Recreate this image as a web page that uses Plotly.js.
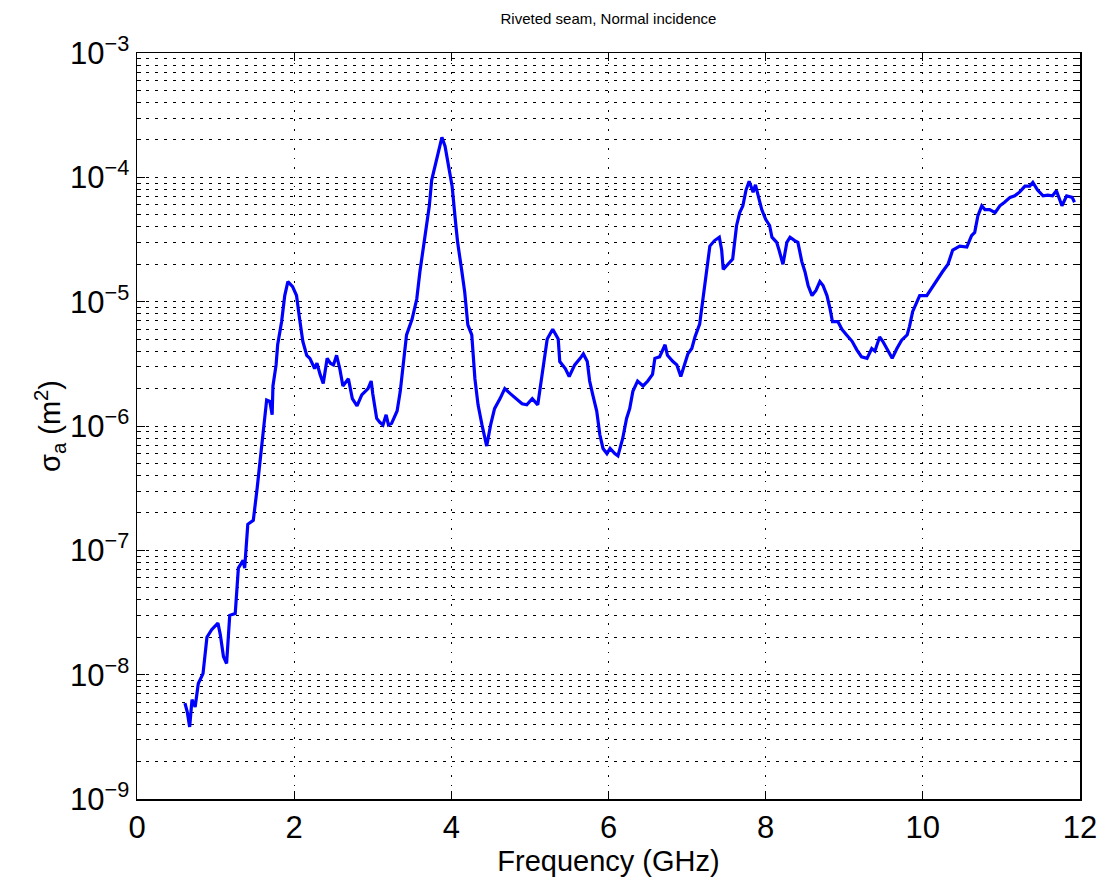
<!DOCTYPE html>
<html>
<head>
<meta charset="utf-8">
<script src="https://cdn.plot.ly/plotly-3.0.1.min.js"></script>
<style>html,body{margin:0;padding:0;background:#fff;}#chart{width:1107px;height:884px;}</style>
</head>
<body>
<div id="chart"></div>
<script>
// Frequency in GHz
const frequencyGHz = [
0.61,0.64,0.67,0.70,0.74,0.78,0.84,0.89,0.95,1.03,
1.06,1.10,1.14,1.16,1.18,1.25,1.29,1.35,1.37,1.41,
1.48,1.53,1.56,1.60,1.63,1.65,1.69,1.72,1.73,1.77,
1.79,1.84,1.88,1.92,1.98,2.03,2.07,2.11,2.16,2.20,
2.26,2.29,2.33,2.37,2.42,2.46,2.50,2.54,2.58,2.62,
2.69,2.74,2.80,2.86,2.94,2.98,3.00,3.05,3.09,3.13,
3.17,3.20,3.24,3.28,3.31,3.35,3.38,3.43,3.50,3.56,
3.60,3.64,3.69,3.72,3.75,3.79,3.83,3.88,3.92,3.96,
4.01,4.05,4.08,4.13,4.17,4.21,4.26,4.30,4.34,4.39,
4.45,4.50,4.55,4.62,4.68,4.75,4.83,4.90,4.96,5.03,
5.10,5.15,5.19,5.22,5.29,5.36,5.38,5.45,5.50,5.57,
5.64,5.68,5.73,5.76,5.80,5.85,5.89,5.93,5.98,6.02,
6.08,6.12,6.18,6.23,6.27,6.31,6.37,6.44,6.50,6.56,
6.59,6.65,6.72,6.75,6.82,6.87,6.92,6.97,7.01,7.06,
7.10,7.16,7.20,7.25,7.29,7.35,7.41,7.44,7.46,7.52,
7.58,7.63,7.67,7.71,7.75,7.79,7.84,7.87,7.91,7.95,
8.00,8.05,8.08,8.14,8.17,8.22,8.27,8.31,8.37,8.41,
8.46,8.50,8.54,8.59,8.64,8.69,8.73,8.78,8.82,8.85,
8.92,8.97,9.03,9.10,9.16,9.22,9.29,9.35,9.39,9.45,
9.49,9.55,9.61,9.67,9.73,9.80,9.83,9.87,9.96,10.05,
10.13,10.19,10.25,10.32,10.38,10.47,10.56,10.62,10.66,10.70,
10.75,10.79,10.85,10.92,10.98,11.04,11.11,11.17,11.23,11.30,
11.36,11.40,11.46,11.53,11.59,11.65,11.70,11.77,11.83,11.90,
11.93
];
// Absorption cross section sigma_a (m^2)
const sigmaA = [
5.9e-9,5.0e-9,3.8e-9,6.3e-9,5.5e-9,8.5e-9,1.02e-8,2.0e-8,2.3e-8,2.6e-8,
2.1e-8,1.4e-8,1.23e-8,2.1e-8,3.0e-8,3.1e-8,7.2e-8,8.3e-8,7.2e-8,1.62e-7,
1.74e-7,3.2e-7,4.9e-7,8.5e-7,1.23e-6,1.62e-6,1.58e-6,1.23e-6,2.1e-6,3.1e-6,
4.5e-6,6.9e-6,1.12e-5,1.45e-5,1.32e-5,1.12e-5,7.2e-6,4.8e-6,3.7e-6,3.5e-6,
2.9e-6,3.2e-6,2.6e-6,2.2e-6,3.5e-6,3.2e-6,3.1e-6,3.7e-6,2.9e-6,2.1e-6,
2.4e-6,1.66e-6,1.45e-6,1.78e-6,2.0e-6,2.3e-6,1.82e-6,1.15e-6,1.07e-6,1.02e-6,
1.23e-6,1.02e-6,1.05e-6,1.2e-6,1.32e-6,1.9e-6,2.75e-6,5.4e-6,7.2e-6,1.05e-5,
1.74e-5,2.6e-5,4.1e-5,5.9e-5,9.5e-5,1.23e-4,1.58e-4,2.1e-4,1.78e-4,1.23e-4,
8.5e-5,4.6e-5,3.0e-5,1.82e-5,1.2e-5,6.5e-6,5.4e-6,2.4e-6,1.48e-6,1.02e-6,
6.9e-7,1.02e-6,1.38e-6,1.66e-6,2.0e-6,1.82e-6,1.66e-6,1.51e-6,1.48e-6,1.66e-6,
1.48e-6,2.4e-6,3.5e-6,5.0e-6,6.0e-6,5.0e-6,3.3e-6,2.9e-6,2.5e-6,3.1e-6,
3.5e-6,3.8e-6,3.3e-6,2.3e-6,1.78e-6,1.32e-6,8.5e-7,6.6e-7,6.0e-7,6.6e-7,
6.0e-7,5.75e-7,7.9e-7,1.15e-6,1.38e-6,1.9e-6,2.3e-6,2.1e-6,2.3e-6,2.6e-6,
3.5e-6,3.6e-6,4.5e-6,3.7e-6,3.3e-6,3.1e-6,2.5e-6,3.1e-6,3.8e-6,4.2e-6,
5.2e-6,6.6e-6,1.05e-5,1.82e-5,2.8e-5,3.1e-5,3.3e-5,2.6e-5,1.82e-5,2.0e-5,
2.2e-5,4.1e-5,5.2e-5,5.9e-5,7.9e-5,9.3e-5,7.6e-5,8.7e-5,7.1e-5,5.5e-5,
4.6e-5,4.1e-5,3.3e-5,3.0e-5,2.6e-5,2.0e-5,3.0e-5,3.3e-5,3.1e-5,3.0e-5,
2.1e-5,1.74e-5,1.35e-5,1.12e-5,1.23e-5,1.45e-5,1.35e-5,1.12e-5,8.7e-6,6.9e-6,
6.9e-6,6.0e-6,5.4e-6,4.8e-6,4.1e-6,3.6e-6,3.5e-6,4.2e-6,4.0e-6,5.2e-6,
4.8e-6,4.1e-6,3.5e-6,4.2e-6,4.9e-6,5.4e-6,6.3e-6,8.3e-6,1.12e-5,1.12e-5,
1.35e-5,1.51e-5,1.74e-5,2.0e-5,2.6e-5,2.8e-5,2.75e-5,3.4e-5,3.6e-5,4.9e-5,
5.9e-5,5.5e-5,5.5e-5,5.2e-5,5.9e-5,6.3e-5,6.9e-5,7.1e-5,7.6e-5,8.5e-5,
8.5e-5,9.1e-5,7.9e-5,7.1e-5,7.2e-5,7.1e-5,7.8e-5,5.9e-5,7.1e-5,6.9e-5,
6.3e-5
];
const xTickVals = [0, 2, 4, 6, 8, 10, 12];
const yDecadeVals = [1e-9, 1e-8, 1e-7, 1e-6, 1e-5, 1e-4, 1e-3];
const yDecadeLabels = ["10<sup>\u22129</sup>","10<sup>\u22128</sup>","10<sup>\u22127</sup>","10<sup>\u22126</sup>","10<sup>\u22125</sup>","10<sup>\u22124</sup>","10<sup>\u22123</sup>"];
const minorMultipliers = [2, 3, 4, 5, 6, 7, 8, 9];

const yMinorVals = [];
for (let d = 0; d < yDecadeVals.length - 1; d++) {
  for (const m of minorMultipliers) yMinorVals.push(yDecadeVals[d] * m);
}

const FONT = "Liberation Sans, Arial, Helvetica, sans-serif";

const trace = {
  x: frequencyGHz,
  y: sigmaA,
  type: "scatter",
  mode: "lines",
  line: { color: "#0000ff", width: 3.2 },
  hoverinfo: "x+y"
};

const layout = {
  width: 1107,
  height: 884,
  paper_bgcolor: "#ffffff",
  plot_bgcolor: "#ffffff",
  showlegend: false,
  margin: { l: 137, r: 27, t: 53, b: 85 },
  title: {
    text: "Riveted seam, Normal incidence",
    font: { family: FONT, size: 15, color: "#000" },
    x: 0.5, xref: "paper", xanchor: "center",
    y: 1, yref: "container", yanchor: "top", pad: { t: 13 }
  },
  xaxis: {
    range: [0, 12],
    tickmode: "array",
    tickvals: xTickVals,
    ticktext: xTickVals.map(String),
    ticks: "inside",
    ticklen: 8,
    tickwidth: 1,
    tickcolor: "#000",
    showline: true,
    linecolor: "#000",
    linewidth: 1.5,
    mirror: "ticks",
    showgrid: true,
    gridcolor: "#000",
    gridwidth: 1,
    griddash: "1.5px,8px",
    zeroline: false,
    tickfont: { family: FONT, size: 31, color: "#000" },
    title: { text: "Frequency (GHz)", font: { family: FONT, size: 29, color: "#000" }, standoff: 4 }
  },
  yaxis: {
    type: "log",
    range: [-9, -3],
    tickmode: "array",
    tickvals: yDecadeVals,
    ticktext: yDecadeLabels,
    ticks: "inside",
    ticklen: 8,
    tickwidth: 1,
    tickcolor: "#000",
    showline: true,
    linecolor: "#000",
    linewidth: 1.5,
    mirror: "ticks",
    showgrid: true,
    gridcolor: "#000",
    gridwidth: 1,
    griddash: "3px,6px",
    zeroline: false,
    tickfont: { family: FONT, size: 31, color: "#000" },
    minor: {
      tickmode: "array",
      tickvals: yMinorVals,
      ticks: "inside",
      ticklen: 4,
      tickcolor: "#000",
      showgrid: true,
      gridcolor: "#000",
      gridwidth: 1,
      griddash: "3px,6px"
    },
    title: { text: "\u03c3<sub>a</sub> (m<sup>2</sup>)", font: { family: FONT, size: 29, color: "#000" }, standoff: 0 }
  }
};

Plotly.newPlot("chart", [trace], layout, { displayModeBar: false, staticPlot: true });
</script>
</body>
</html>
